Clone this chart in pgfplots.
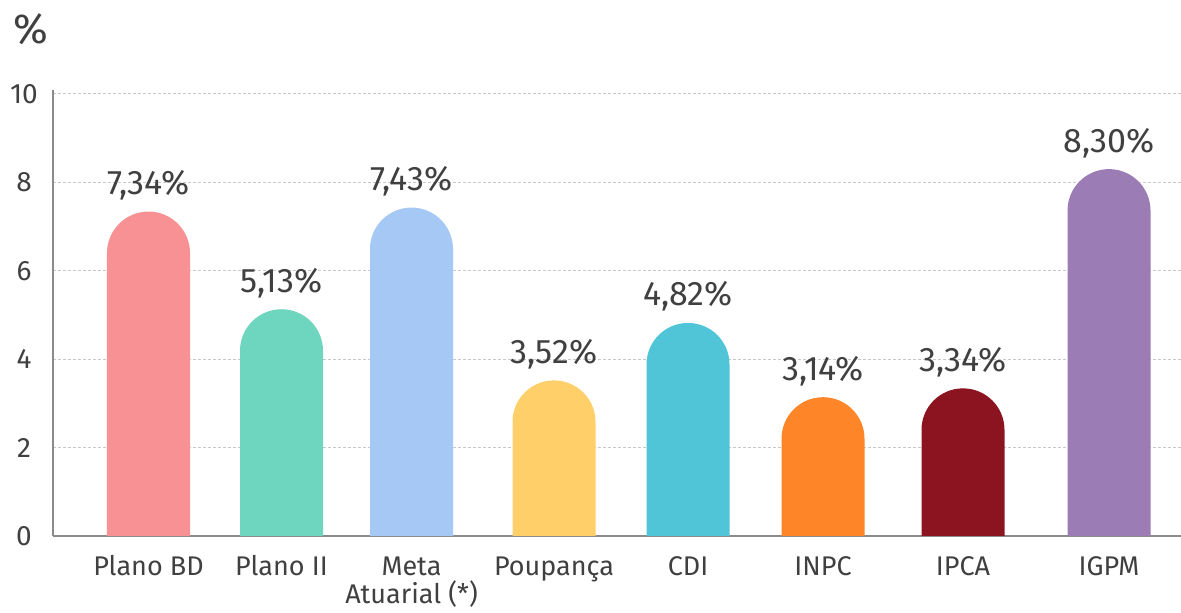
\documentclass[border=0pt]{standalone}
\usepackage{fontspec}
\setmainfont{Fira Sans}
\usepackage{pgfplots}
\usepackage{pgfplotstable}
\pgfplotsset{compat=1.18}
\definecolor{txt}{HTML}{404040}
\definecolor{axisgray}{HTML}{8A8A8A}
\definecolor{gridgray}{HTML}{C8C8C8}
\definecolor{cBD}{HTML}{F89194}
\definecolor{cII}{HTML}{6ED5BE}
\definecolor{cMeta}{HTML}{A5C8F5}
\definecolor{cPoup}{HTML}{FFD06A}
\definecolor{cCDI}{HTML}{50C5D7}
\definecolor{cINPC}{HTML}{FF8529}
\definecolor{cIPCA}{HTML}{8C1420}
\definecolor{cIGPM}{HTML}{9C7CB4}
\pgfplotstableread{
x y lab
148.5 7.34 7,34\%
281.5 5.13 5,13\%
411.5 7.43 7,43\%
554 3.52 3,52\%
688 4.82 4,82\%
823 3.14 3,14\%
963 3.34 3,34\%
1109 8.30 8,30\%
}\valtab
\begin{document}
\begin{tikzpicture}
\path[use as bounding box] (-26.5pt,-38.5pt) rectangle (564pt,268pt);
\begin{axis}[
  scale only axis, width=564pt, height=223pt,
  xmin=53, xmax=1181, ymin=0, ymax=10.09,
  axis lines*=left,
  axis line style={draw=axisgray, line width=1pt},
  ytick={0,2,4,6,8,10},
  xtick={148.5,281.5,411.5,554,688,823,963,1109},
  xticklabels={Plano BD, Plano II, {\begin{tabular}[t]{@{}c@{}}Meta\\[-3.5pt]Atuarial (*)\end{tabular}}, Poupança, CDI, INPC, IPCA, IGPM},
  major tick length=0pt,
  ymajorgrids,
  grid style={draw=gridgray, line width=0.5pt, dash pattern=on 1.5pt off 1pt},
  /pgf/number format/assume math mode=true,
  yticklabel style={font=\fontsize{14}{16}\selectfont, text=txt, anchor=center, xshift=-14.5pt},
  xticklabel style={font=\fontsize{13.5}{17.5}\selectfont, text=txt, anchor=base, yshift=-20pt},
]
\addplot[fill=cBD, draw=none, rounded corners=20.75pt] coordinates {(107,-1) (107,7.34) (190,7.34) (190,-1)} -- cycle;
\addplot[fill=cII, draw=none, rounded corners=20.75pt] coordinates {(240,-1) (240,5.13) (323,5.13) (323,-1)} -- cycle;
\addplot[fill=cMeta, draw=none, rounded corners=20.75pt] coordinates {(370,-1) (370,7.43) (453,7.43) (453,-1)} -- cycle;
\addplot[fill=cPoup, draw=none, rounded corners=20.75pt] coordinates {(512.5,-1) (512.5,3.52) (595.5,3.52) (595.5,-1)} -- cycle;
\addplot[fill=cCDI, draw=none, rounded corners=20.75pt] coordinates {(646.5,-1) (646.5,4.82) (729.5,4.82) (729.5,-1)} -- cycle;
\addplot[fill=cINPC, draw=none, rounded corners=20.75pt] coordinates {(781.5,-1) (781.5,3.14) (864.5,3.14) (864.5,-1)} -- cycle;
\addplot[fill=cIPCA, draw=none, rounded corners=20.75pt] coordinates {(921.5,-1) (921.5,3.34) (1004.5,3.34) (1004.5,-1)} -- cycle;
\addplot[fill=cIGPM, draw=none, rounded corners=20.75pt] coordinates {(1067.5,-1) (1067.5,8.30) (1150.5,8.30) (1150.5,-1)} -- cycle;
\addplot[draw=none, mark=none, nodes near coords, point meta=explicit symbolic,
  every node near coord/.append style={anchor=base, yshift=8.5pt, font=\fontsize{17}{20}\selectfont, text=txt, inner sep=0pt}]
  table[x=x, y=y, meta=lab] {\valtab};
\end{axis}
\node[font=\fontsize{21}{24}\selectfont, text=txt] at (-11pt,253.5pt) {\%};
\end{tikzpicture}
\end{document}
